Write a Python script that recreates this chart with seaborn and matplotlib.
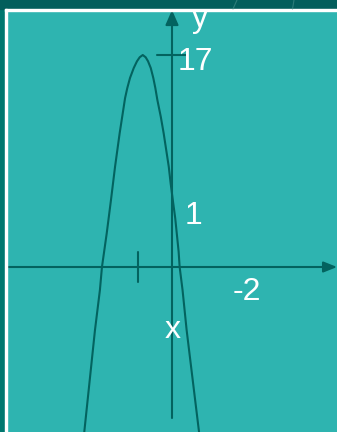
import pandas as pd
import matplotlib.pyplot as plt
import seaborn as sns
from matplotlib.patches import Rectangle
from matplotlib.lines import Line2D

# 抛物线上读出的点（左支从下到上，再右支从上到下）
curve_x = [-5.16, -4.53, -4.24, -4.12, -3.84, -3.59, -3.35, -3.08, -2.85, -2.76,
           -2.63, -2.47, -2.25, -2.06, -1.90, -1.72, -1.55, -1.41, -1.25, -1.10,
           -0.98, -0.86, -0.66, -0.49, -0.34, -0.19, -0.08, 0.06, 0.19, 0.29,
           0.39, 0.45, 0.62, 0.86, 1.59]
curve_y = [-13.23, -5.05, -1.84, 0.00, 2.70, 5.37, 8.04, 10.72, 12.75, 13.55,
           14.35, 15.16, 15.96, 16.50, 16.82, 17.00, 16.82, 16.50, 15.96, 15.16,
           14.35, 13.39, 12.05, 10.72, 9.38, 8.04, 6.71, 5.24, 3.91, 2.57,
           1.23, 0.00, -1.84, -5.05, -13.23]

# 刻度
y_tick_value = 17
x_tick_value = -2

# 文字标签
label_texts = ["y", "17", "1", "-2", "x"]
label_x = [1.62, 1.38, 1.29, 4.38, 0.06]
label_y = [19.28, 15.80, 3.45, -2.65, -5.69]

teal = "#2eb4b0"
dark = "#03635f"

sns.set_theme(style="white")
plt.rcParams['font.family'] = ['Liberation Sans', 'DejaVu Sans']

fig = plt.figure(figsize=(3.37, 4.32), dpi=100)
fig.patch.set_facecolor(teal)
ax = fig.add_axes([0, 0, 1, 1])
ax.set_axis_off()

df = pd.DataFrame({"x": curve_x, "y": curve_y})
sns.lineplot(data=df, x="x", y="y", sort=False, estimator=None,
             color=dark, linewidth=1.5, ax=ax)

# 坐标轴（带箭头）
ax.annotate("", xy=(0, 20.61), xytext=(0, -12.11),
            arrowprops=dict(arrowstyle="-|>,head_length=0.5,head_width=0.22",
                            mutation_scale=18, color=dark, lw=1.5,
                            shrinkA=0, shrinkB=0))
ax.annotate("", xy=(9.71, 0), xytext=(-9.76, 0),
            arrowprops=dict(arrowstyle="-|>,head_length=0.45,head_width=0.18",
                            mutation_scale=18, color=dark, lw=1.5,
                            shrinkA=0, shrinkB=0))

# 刻度线
ax.plot([-0.86, 0.86], [y_tick_value, y_tick_value], color=dark, lw=1.5)
ax.plot([x_tick_value, x_tick_value], [-1.2, 1.2], color=dark, lw=1.5)

for t, lx, ly in zip(label_texts, label_x, label_y):
    ax.text(lx, ly, t, color="white", fontsize=23, ha="center", va="baseline")

ax.set_xlim(-172 / 17, 165 / 17)
ax.set_ylim(-165 / 12.47, 267 / 12.47)

# 幻灯片边框
W, H = 337, 432
fig.add_artist(Rectangle((0, 0), 5 / W, 1, transform=fig.transFigure,
                         color="#00776f", zorder=10))
fig.add_artist(Rectangle((0, 1 - 9 / H), 1, 9 / H, transform=fig.transFigure,
                         color="#035e5c", zorder=10))
fig.add_artist(Rectangle((5 / W, 1 - 11 / H), 1, 2 / H, transform=fig.transFigure,
                         color="white", zorder=11))
fig.add_artist(Rectangle((5 / W, 0), 2 / W, 1 - 9 / H, transform=fig.transFigure,
                         color="white", zorder=11))
for x0, x1 in [(237, 233), (294, 292.5)]:
    fig.add_artist(Line2D([x0 / W, x1 / W], [1, 1 - 9 / H], transform=fig.transFigure,
                          color="#3f8a86", lw=0.8, alpha=0.7, zorder=12))

fig.savefig("out.png", dpi=100)
